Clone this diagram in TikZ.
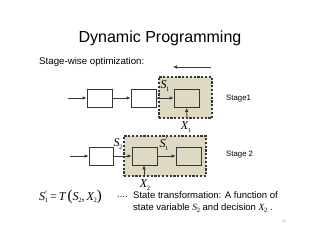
\documentclass[tikz,border=0pt]{standalone}
\usepackage{fontspec}
\setmainfont{Liberation Sans}
\newfontfamily\tms{Liberation Serif}
\usetikzlibrary{arrows.meta}
\definecolor{tan}{RGB}{221,217,195}
\definecolor{edge}{RGB}{55,55,55}
\newcommand{\vsub}[2]{{\tms\itshape #1}\kern-0.3pt\raisebox{-2.2pt}{\tms\fontsize{6.5}{6.5}\selectfont #2}}
\newcommand{\vsubp}[2]{{\tms\itshape #1}\kern-0.3pt\rlap{\raisebox{4.5pt}{\tms\fontsize{6.5}{6.5}\selectfont$'$}}\raisebox{-2.2pt}{\tms\fontsize{6.5}{6.5}\selectfont #2}}
\begin{document}
\begin{tikzpicture}[x=1pt,y=-1pt,
  blk/.style={draw=edge,line width=0.8pt,minimum width=25pt,minimum height=18pt,inner sep=0pt},
  frame/.style={draw=edge,fill=tan,line width=1.3pt,dash pattern=on 2.2pt off 1.6pt,inner sep=0pt},
  conn/.style={draw=edge,line width=0.8pt,-{Latex[length=4pt,width=3.6pt]}},
  lbl/.style={inner sep=0pt,font=\fontsize{12}{12}\selectfont}]
\useasboundingbox (0,0) rectangle (320,247);
% title
\node[inner sep=0pt] (title) at (160,38) {\fontsize{16}{16}\selectfont Dynamic Programming};
\node[inner sep=0pt,anchor=west] (sub) at (39,62) {\fontsize{9.7}{9.7}\selectfont Stage-wise optimization:};
% top arrow
\coordinate (ta) at (211,67);
\coordinate (tb) at (173,67);
\draw[conn] (ta) -- (tb);
% stage 1
\node[frame,minimum width=53pt,minimum height=41pt] (f1) at (185.5,97.5) {};
\node[blk] (b1) at (99.5,98) {};
\node[blk] (b2) at (143.5,98) {};
\node[blk] (b3) at (186.5,98.5) {};
\coordinate (in1) at (68,98);
\draw[conn] (in1) -- (b1);
\draw[conn] (b1) -- (b2);
\draw[conn] (b2.east) -- (b3.west|-b2.east);
\coordinate (x1s) at (187,117);
\draw[conn] (x1s) -- (b3.south);
\node[lbl] (s1) at (165,86) {\vsub{S}{1}};
\node[lbl] (x1) at (186,127) {\vsub{X}{1}};
\node[inner sep=0pt,anchor=west] (st1) at (226,99) {\fontsize{7.8}{7.8}\selectfont Stage1};
% stage 2
\node[frame,minimum width=82pt,minimum height=40pt] (f2) at (165,156) {};
\node[blk,minimum width=24pt] (ba) at (101,156) {};
\node[blk] (bb) at (144.5,156) {};
\node[blk] (bc) at (188.5,156) {};
\coordinate (in2) at (70,156);
\draw[conn] (in2) -- (ba);
\draw[conn] (ba) -- (bb);
\draw[conn] (bb) -- (bc);
\coordinate (x2s) at (144,176);
\draw[conn] (x2s) -- (bb.south-|x2s);
\node[lbl] (s2) at (118,144) {\vsub{S}{2}};
\node[lbl] (s1p) at (164,144) {\vsubp{S}{1}};
\node[lbl] (x2) at (145,185) {\vsub{X}{2}};
\node[inner sep=0pt,anchor=west] (st2) at (226,155) {\fontsize{7.8}{7.8}\selectfont Stage 2};
% equation
\node[lbl,anchor=west] (eq) at (39,197) {\vsubp{S}{1}\,{\tms =}\,{\tms\itshape T}\,{\tms\fontsize{15}{15}\selectfont(}\vsub{S}{2}{\tms ,}\,\vsub{X}{2}{\tms\fontsize{15}{15}\selectfont)}};
\node[inner sep=0pt,anchor=west] (dots) at (117,197) {\fontsize{9.5}{9.5}\selectfont ....};
\node[inner sep=0pt,anchor=north west,align=left,font=\fontsize{9.5}{11.5}\selectfont] (txt) at (133,191.5) {State transformation: A function of\\state variable \vsub{S}{2} and decision \vsub{X}{2} .};
\node[inner sep=0pt,text=black!35] (pg) at (284,221) {\fontsize{3.5}{3.5}\selectfont 10};
\end{tikzpicture}
\end{document}
